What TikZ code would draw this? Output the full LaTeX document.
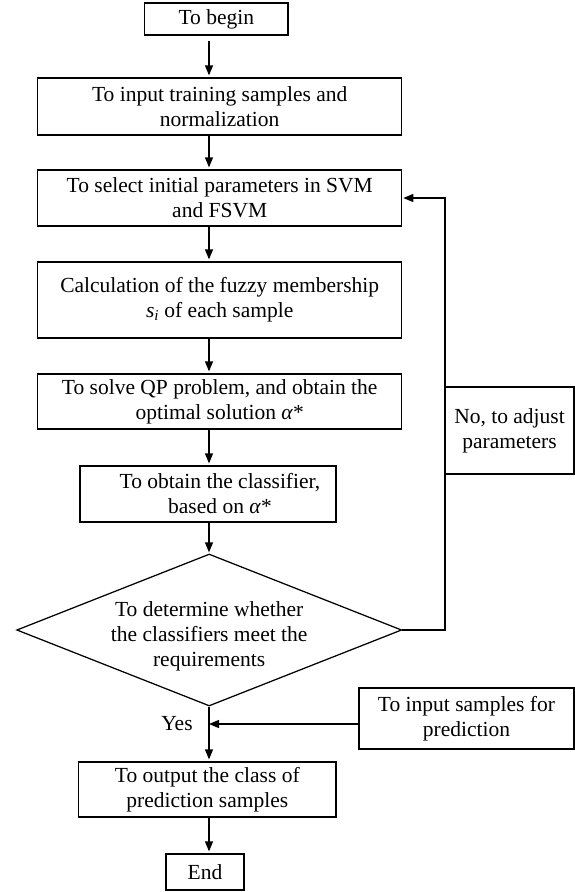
\documentclass[tikz,border=0pt]{standalone}
\usepackage{fontspec}
\setmainfont{Liberation Serif}
\usetikzlibrary{arrows.meta,shapes.geometric}
\tikzset{
  boxnode/.style={draw,rectangle,inner sep=0pt,align=center,line width=1.25pt,
    font=\fontsize{21.5}{25}\selectfont},
  decnode/.style={draw,diamond,inner sep=0pt,line width=1.25pt,shape aspect=2.53},
  lblnode/.style={inner sep=0pt,align=center,font=\fontsize{21.5}{25}\selectfont},
  arr/.style={line width=1.25pt,-{Triangle[length=10pt,width=8pt]},shorten >=2pt}
}
\begin{document}
\begin{tikzpicture}[x=1pt,y=-1pt]
\useasboundingbox (0,0) rectangle (575,892);
\coordinate (colx) at (209,0);
\coordinate (fbx) at (445,0);
\node[boxnode,minimum width=143.5pt,minimum height=32pt] (begin) at (216.3,19) {To begin};
\node[boxnode,minimum width=364pt,minimum height=57pt] (input) at (219.7,106.5) {To input training samples and\\normalization};
\node[boxnode,minimum width=364pt,minimum height=56pt] (select) at (219.7,198) {To select initial parameters in SVM\\and FSVM};
\node[boxnode,minimum width=364pt,minimum height=76pt] (calc) at (219.7,300) {Calculation of the fuzzy membership\\\textit{s\textsubscript{i}} of each sample};
\node[boxnode,minimum width=364pt,minimum height=55pt] (qp) at (219.7,401.5) {To solve QP problem, and obtain the\\optimal solution \textit{α}*};
\node[boxnode,minimum width=256pt,minimum height=56pt,
  label={[lblnode,xshift=12pt]center:To obtain the classifier,\\based on \textit{α}*}] (clf) at (208,494) {};
\node[decnode,minimum width=385pt,minimum height=152pt,
  label={[lblnode,yshift=-6pt]center:To determine whether\\the classifiers meet the\\requirements}] (dec) at (209.2,630) {};
\node[boxnode,minimum width=129pt,minimum height=87pt] (nolbl) at (509.5,430.5) {No, to adjust\\parameters};
\node[boxnode,minimum width=215pt,minimum height=61pt] (inpred) at (466.5,718.5) {To input samples for\\prediction};
\node[boxnode,minimum width=257.5pt,minimum height=55pt] (output) at (207.3,789.5) {To output the class of\\prediction samples};
\node[boxnode,minimum width=78pt,minimum height=36pt] (end) at (205,872) {End};
\node[lblnode] (yes) at (177,724) {Yes};
\coordinate (join) at (209,724);

\draw[arr,shorten <=5pt] (begin.south -| colx) -- (input.north -| colx);
\draw[arr] (input.south -| colx) -- (select.north -| colx);
\draw[arr] (select.south -| colx) -- (calc.north -| colx);
\draw[arr] (calc.south -| colx) -- (qp.north -| colx);
\draw[arr] (qp.south -| colx) -- (clf.north -| colx);
\draw[arr,shorten >=1pt] (clf.south -| colx) -- (dec.north -| colx);
\draw[arr] (dec.south -| colx) -- (output.north -| colx);
\draw[arr] (output.south -| colx) -- (end.north -| colx);
\draw[arr,shorten >=0pt] (inpred.west |- join) -- (join);
\draw[arr,shorten >=1pt] (dec.east) -- (dec.east -| fbx) -- (select.east -| fbx) -- (select.east);
\end{tikzpicture}
\end{document}
